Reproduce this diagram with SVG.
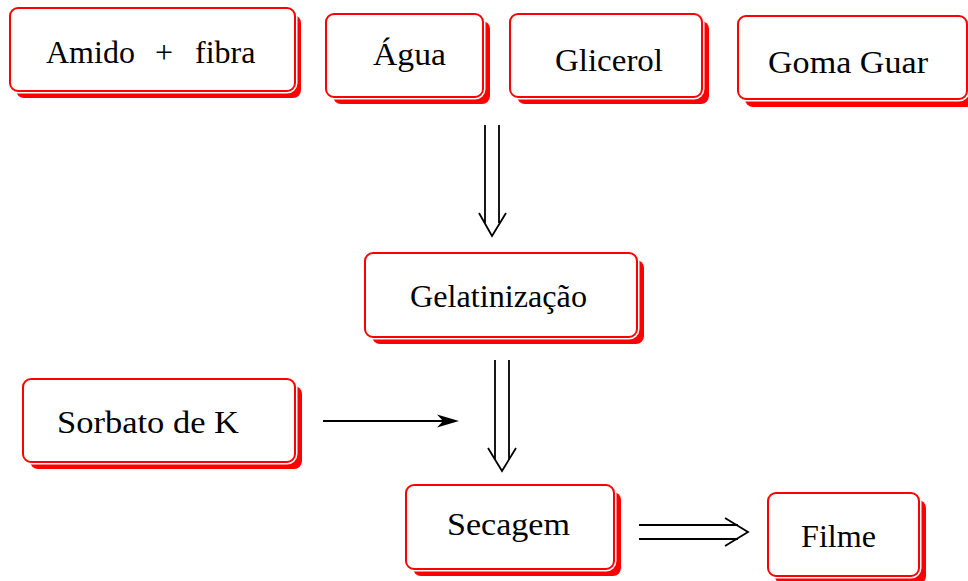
<svg xmlns="http://www.w3.org/2000/svg" width="968" height="581" viewBox="0 0 968 581">
<style>
.sh{fill:#ff0000}
.gap{fill:none;stroke:#ffffff;stroke-width:5}
.bx{fill:#ffffff;stroke:#ff0000;stroke-width:2}
.ln{fill:none;stroke:#000000;stroke-width:1.8}
</style>
<rect width="968" height="581" fill="#ffffff"/>
<g font-family="'Liberation Serif', Tinos, 'Noto Serif', 'Nimbus Roman', FreeSerif, Times, 'DejaVu Serif', serif" font-size="32" fill="#000000">
<g id="amido">
<rect class="sh" x="16" y="15" width="285" height="83" rx="8"/>
<rect class="gap" x="10" y="8" width="285" height="83" rx="8"/>
<rect class="bx" x="10" y="8" width="285" height="83" rx="8"/>
<text y="63"><tspan x="46">Amido</tspan><tspan x="155">+</tspan><tspan x="195">fibra</tspan></text>
</g>
<g id="agua">
<rect class="sh" x="333" y="21" width="157" height="83" rx="8"/>
<rect class="gap" x="326" y="14" width="157" height="83" rx="8"/>
<rect class="bx" x="326" y="14" width="157" height="83" rx="8"/>
<text x="373" y="65" textLength="73" lengthAdjust="spacingAndGlyphs">Água</text>
</g>
<g id="glicerol">
<rect class="sh" x="517" y="21" width="192" height="83" rx="8"/>
<rect class="gap" x="510" y="14" width="192" height="83" rx="8"/>
<rect class="bx" x="510" y="14" width="192" height="83" rx="8"/>
<text x="555" y="71" textLength="108" lengthAdjust="spacingAndGlyphs">Glicerol</text>
</g>
<g id="goma">
<rect class="sh" x="745" y="24" width="229" height="83" rx="8"/>
<rect class="gap" x="738" y="16" width="229" height="83" rx="8"/>
<rect class="bx" x="738" y="16" width="229" height="83" rx="8"/>
<text x="768" y="73" textLength="160" lengthAdjust="spacingAndGlyphs">Goma Guar</text>
</g>
<g id="gelatinizacao">
<rect class="sh" x="372" y="260" width="272" height="84" rx="8"/>
<rect class="gap" x="365" y="253" width="272" height="84" rx="8"/>
<rect class="bx" x="365" y="253" width="272" height="84" rx="8"/>
<text x="410" y="307" textLength="177" lengthAdjust="spacingAndGlyphs">Gelatinização</text>
</g>
<g id="sorbato">
<rect class="sh" x="30" y="386" width="272" height="83" rx="8"/>
<rect class="gap" x="23" y="379" width="272" height="83" rx="8"/>
<rect class="bx" x="23" y="379" width="272" height="83" rx="8"/>
<text x="57" y="433" textLength="182" lengthAdjust="spacingAndGlyphs">Sorbato de K</text>
</g>
<g id="secagem">
<rect class="sh" x="413" y="492" width="208" height="84" rx="8"/>
<rect class="gap" x="406" y="485" width="208" height="84" rx="8"/>
<rect class="bx" x="406" y="485" width="208" height="84" rx="8"/>
<text x="447" y="535" textLength="123" lengthAdjust="spacingAndGlyphs">Secagem</text>
</g>
<g id="filme">
<rect class="sh" x="775" y="500" width="151" height="84" rx="8"/>
<rect class="gap" x="768" y="493" width="151" height="83" rx="8"/>
<rect class="bx" x="768" y="493" width="151" height="83" rx="8"/>
<text x="801" y="547" textLength="75" lengthAdjust="spacingAndGlyphs">Filme</text>
</g>
</g>
<g id="connectors">
<path class="ln" d="M485,125 V223 M499,125 V223 M479,213 L492,236 L506,213"/>
<path class="ln" d="M495,360 V460 M509,360 V460 M488,448 L502,471 L516,448"/>
<path class="ln" d="M323,421 H447"/>
<path d="M459,421 L437,414.5 L443,421 L437,427.5 Z" fill="#000000"/>
<path class="ln" d="M639,525 H738 M639,539 H738 M725,518 L748,532 L725,546"/>
</g>
</svg>
